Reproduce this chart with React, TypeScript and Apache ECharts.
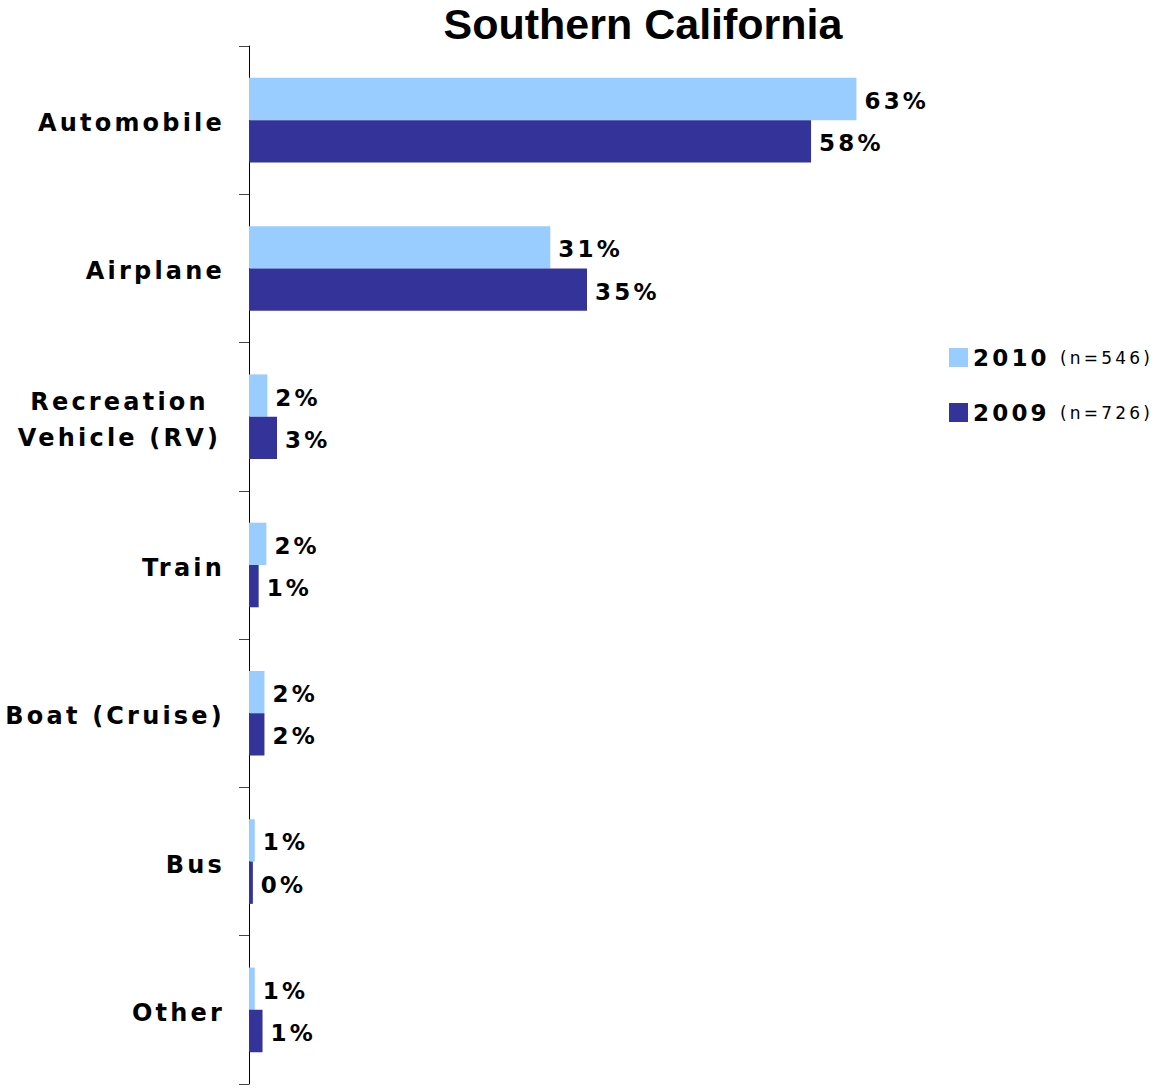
import React, { useEffect, useRef } from "react";
import * as echarts from "echarts";

const titleText = "Southern California";
const categories = [
  "Automobile",
  "Airplane",
  "Recreation\nVehicle (RV)",
  "Train",
  "Boat (Cruise)",
  "Bus",
  "Other",
];
const seriesNames = ["2010", "2009"];
const sampleSizes = ["(n=546)", "(n=726)"];
const values2010 = [62.9, 31.2, 1.9, 1.8, 1.6, 0.6, 0.6];
const values2009 = [58.2, 35.0, 2.9, 1.0, 1.6, 0.4, 1.4];
const seriesColors = ["#99CCFF", "#333399"];

const FONT = "'DejaVu Sans', Verdana, sans-serif";

export default function App() {
  const ref = useRef<HTMLDivElement>(null);
  useEffect(() => {
    if (!ref.current) return;
    const chart = echarts.init(ref.current, null, { renderer: "svg" });
    const valueLabel = {
      show: true,
      position: "right",
      distance: 8,
      offset: [0, 2],
      formatter: (p: any) => Math.round(p.value) + "%",
      fontFamily: FONT,
      fontWeight: "bold",
      fontSize: 23,
      color: "#000",
    };
    const catText = {
      fontFamily: FONT,
      fontWeight: "bold",
      fontSize: 24,
      color: "#000",
      lineHeight: 36,
    };
    chart.setOption({
      animation: false,
      backgroundColor: "#fff",
      title: {
        text: titleText,
        left: 643,
        textAlign: "center",
        top: 2,
        padding: 0,
        textStyle: {
          fontFamily: "'Liberation Sans', Arial, sans-serif",
          fontWeight: "bold",
          fontSize: 43,
          lineHeight: 43,
          color: "#000",
        },
      },
      legend: {
        orient: "vertical",
        left: 944,
        top: 341,
        itemWidth: 19,
        itemHeight: 19,
        itemGap: 32,
        icon: "rect",
        data: seriesNames,
        formatter: (name: string) =>
          `{a|${name}}{b|${sampleSizes[seriesNames.indexOf(name)]}}`,
        textStyle: {
          rich: {
            a: {
              fontFamily: FONT,
              fontWeight: "bold",
              fontSize: 23,
              color: "#000",
              width: 87,
            },
            b: {
              fontFamily: FONT,
              fontSize: 17,
              color: "#000",
            },
          },
        },
      },
      grid: { left: 249, top: 46, bottom: 5, right: 231, containLabel: false },
      xAxis: {
        type: "value",
        min: 0,
        max: 70,
        show: false,
        splitLine: { show: false },
      },
      yAxis: {
        type: "category",
        data: categories,
        inverse: true,
        axisLine: { show: true, lineStyle: { color: "#000", width: 1 } },
        axisTick: { show: true, length: 10, lineStyle: { color: "#444" } },
        axisLabel: {
          margin: 24,
          padding: [6, 0, 0, 0],
          formatter: (v: string) =>
            v.indexOf("\n") >= 0
              ? v
                  .split("\n")
                  .map((l) => `{m|${l}}`)
                  .join("\n")
              : `{r|${v}}`,
          rich: {
            r: { ...catText, align: "right" },
            m: { ...catText, align: "center", width: 211 },
          },
        },
      },
      series: [
        {
          name: seriesNames[0],
          type: "bar",
          data: values2010,
          barWidth: 42.3,
          barGap: "0%",
          itemStyle: { color: seriesColors[0] },
          label: valueLabel,
        },
        {
          name: seriesNames[1],
          type: "bar",
          data: values2009,
          barWidth: 42.3,
          barGap: "0%",
          itemStyle: { color: seriesColors[1] },
          label: valueLabel,
        },
      ],
    });
    return () => chart.dispose();
  }, []);
  return (
    <>
      <style>{`.sc-chart text[style*="DejaVu"] { letter-spacing: 3.2px; }`}</style>
      <div
        ref={ref}
        className="sc-chart"
        style={{ position: "absolute", left: 0, top: 0, width: 1156, height: 1089 }}
      />
    </>
  );
}
